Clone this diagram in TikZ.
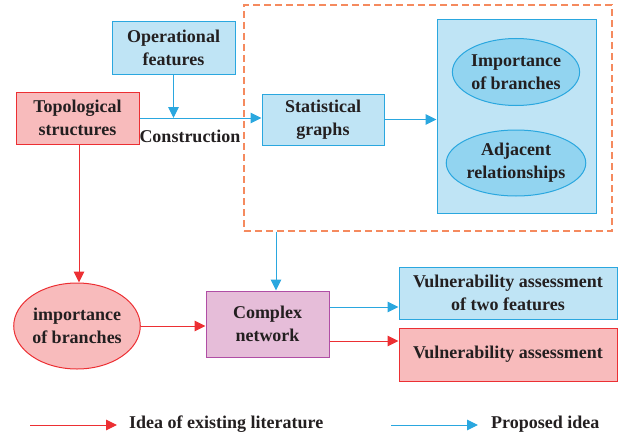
\documentclass[tikz,border=0pt]{standalone}
\usepackage{fontspec}
\setmainfont{Liberation Serif}
\usetikzlibrary{arrows.meta,shapes.geometric,calc}
\definecolor{bfill}{HTML}{BFE4F5}
\definecolor{bline}{HTML}{2AA7DF}
\definecolor{efill}{HTML}{92D4F0}
\definecolor{rfill}{HTML}{F8BBBC}
\definecolor{rline}{HTML}{EC2F33}
\definecolor{pfill}{HTML}{E6BDD9}
\definecolor{pline}{HTML}{B04EA5}
\definecolor{dline}{HTML}{F58A5E}
\definecolor{txt}{HTML}{231F20}
\tikzset{
  every node/.style={font=\fontsize{18}{23}\selectfont\bfseries, text=txt, align=center, inner sep=0pt},
  bluebox/.style={draw=bline, fill=bfill, line width=1pt},
  redbox/.style={draw=rline, fill=rfill, line width=1pt},
  purplebox/.style={draw=pline, fill=pfill, line width=1pt},
  blueell/.style={ellipse, draw=bline, fill=efill, line width=1pt},
  redell/.style={ellipse, draw=rline, fill=rfill, line width=1pt},
  bluearr/.style={draw=bline, line width=1pt, -{Triangle[length=11pt,width=10.5pt]}},
  redarr/.style={draw=rline, line width=1pt, -{Triangle[length=11pt,width=10.5pt]}},
  dashbox/.style={draw=dline, line width=1.3pt, dash pattern=on 7pt off 4pt},
}
\begin{document}
\begin{tikzpicture}[x=1pt,y=-1pt]
\useasboundingbox (0,0) rectangle (623,436);
% dashed container
\node[dashbox, minimum width=368pt, minimum height=226pt] (dash) at (428,118) {};
% boxes
\node[bluebox, minimum width=123pt, minimum height=52pt] (op) at (173.5,48) {Operational\\features};
\node[redbox, minimum width=123pt, minimum height=52pt] (topo) at (77.5,118) {Topological\\structures};
\node[bluebox, minimum width=122pt, minimum height=51pt] (stat) at (323,119.5) {Statistical\\graphs};
\node[bluebox, minimum width=159pt, minimum height=193pt] (big) at (516.5,116.5) {};
\node[blueell, minimum width=124pt, minimum height=67pt] (e1) at (516,72) {Importance\\of branches};
\node[blueell, minimum width=124pt, minimum height=66pt] (e2) at (516,163) {Adjacent\\relationships};
\node[redell, minimum width=124pt, minimum height=86pt] (imp) at (77,326) {importance\\of branches};
\node[purplebox, minimum width=123pt, minimum height=66pt] (cn) at (267.5,324) {Complex\\network};
\node[bluebox, minimum width=218pt, minimum height=52pt] (v1) at (508,293) {Vulnerability assessment\\of two features};
\node[redbox, minimum width=218pt, minimum height=53pt] (v2) at (508,354.5) {Vulnerability assessment};
\node (cons) at (190,136) {Construction};
% connectors
\draw[bluearr] (topo.east) -- (topo.east -| stat.west);
\draw[bluearr] (op.south) -- (op.south |- topo.east);
\draw[bluearr] (stat.east) -- (stat.east -| big.west);
\draw[bluearr] ([xshift=8.5pt]cn.north |- dash.south) -- ([xshift=8.5pt]cn.north);
\draw[redarr] ([xshift=1.5pt]topo.south) -- ([xshift=1.5pt]topo.south |- imp.north);
\draw[redarr] (imp.east) -- (imp.east -| cn.west);
\draw[bluearr] ([yshift=17pt]cn.east) -- ([yshift=17pt]cn.east -| v1.west);
\draw[redarr] ([yshift=-17pt]cn.east) -- ([yshift=-17pt]cn.east -| v2.west);
% legend
\coordinate (l1) at (30,425);
\coordinate (l2) at (117,425);
\coordinate (l3) at (391,425);
\coordinate (l4) at (478,425);
\draw[redarr] (l1) -- (l2);
\draw[bluearr] (l3) -- (l4);
\node[anchor=west] (lt1) at (129,424) {Idea of existing literature};
\node[anchor=west] (lt2) at (491,424) {Proposed idea};
\end{tikzpicture}
\end{document}
